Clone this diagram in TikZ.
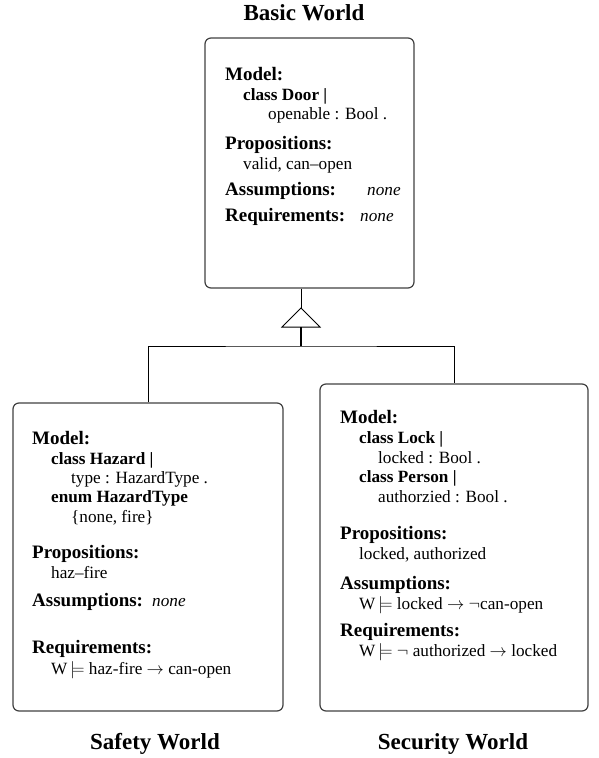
\documentclass[tikz,border=0pt]{standalone}
\usepackage{fontspec}
\setmainfont{Liberation Serif}
\begin{document}
\begin{tikzpicture}[x=1pt,y=-1pt,
  box/.style={draw=black!75, line width=1.2pt, rounded corners=6pt, inner sep=0pt},
  hd/.style={anchor=base west, inner sep=0pt, font=\fontsize{19}{19}\selectfont\bfseries},
  tx/.style={anchor=base west, inner sep=0pt, font=\fontsize{17.2}{17}\selectfont},
  tb/.style={anchor=base west, inner sep=0pt, font=\fontsize{17.2}{17}\selectfont\bfseries},
  ti/.style={anchor=base west, inner sep=0pt, font=\fontsize{17.2}{17}\selectfont\itshape},
  ttl/.style={anchor=base, inner sep=0pt, font=\fontsize{23}{23}\selectfont\bfseries},
  conn/.style={line width=1pt, draw=black}]
\useasboundingbox (0,0) rectangle (598,758);

% boxes
\node[box, minimum width=209pt, minimum height=250pt] (basic) at (309.5,163) {};
\node[box, minimum width=270pt, minimum height=308pt] (safety) at (148,557) {};
\node[box, minimum width=268pt, minimum height=327pt] (security) at (454,547.5) {};

% titles
\node[ttl] (tbasic) at (304,20) {Basic World};
\node[ttl] (tsafety) at (155,749) {Safety World};
\node[ttl] (tsecurity) at (453,749) {Security World};

% connectors
\coordinate (apex) at (301,308);
\coordinate (bl) at (282,327);
\coordinate (br) at (320,327);
\coordinate (bm) at (301,327);
\coordinate (bar) at (301,346);
\draw[conn] (apex |- basic.south) -- (apex);
\draw[conn] (apex) -- (bl) -- (br) -- cycle;
\draw[line width=2pt] (bm) -- (bar);
\draw[conn] (safety.north) |- (bar) -| (security.north);

% basic box text
\node[hd] (b1) at (225,80) {Model:};
\node[tb] (b2) at (243,100) {class Door |};
\node[tx] (b3) at (268,119) {openable : Bool .};
\node[hd] (b4) at (225,149) {Propositions:};
\node[tx] (b5) at (243,169) {valid, can–open};
\node[hd] (b6) at (225,195) {Assumptions:};
\node[ti] (b6n) at (367,195) {none};
\node[hd] (b7) at (225,221) {Requirements:};
\node[ti] (b7n) at (360,221) {none};

% safety box text
\node[hd] (s1) at (32,444) {Model:};
\node[tb] (s2) at (51,464) {class Hazard |};
\node[tx] (s3) at (71,483) {type : HazardType .};
\node[tb] (s4) at (51,502) {enum HazardType};
\node[tx] (s5) at (71,522) {\{none, fire\}};
\node[hd] (s6) at (32,558) {Propositions:};
\node[tx] (s7) at (51,578) {haz–fire};
\node[hd] (s8) at (32,606) {Assumptions:};
\node[ti] (s8n) at (152,606) {none};
\node[hd] (s9) at (32,653) {Requirements:};
\node[tx] (s10) at (51,674) {W\,$\models$ haz-fire $\rightarrow$ can-open};

% security box text
\node[hd] (r1) at (340,423) {Model:};
\node[tb] (r2) at (359,443) {class Lock |};
\node[tx] (r3) at (378,463) {locked : Bool .};
\node[tb] (r4) at (359,482) {class Person |};
\node[tx] (r5) at (378,502) {authorzied : Bool .};
\node[hd] (r6) at (340,539) {Propositions:};
\node[tx] (r7) at (359,559) {locked, authorized};
\node[hd] (r8) at (340,589) {Assumptions:};
\node[tx] (r9) at (359,609) {W\,$\models$ locked $\rightarrow$ $\neg$can-open};
\node[hd] (r10) at (340,636) {Requirements:};
\node[tx] (r11) at (359,656) {W\,$\models$ $\neg$ authorized $\rightarrow$ locked};
\end{tikzpicture}
\end{document}
